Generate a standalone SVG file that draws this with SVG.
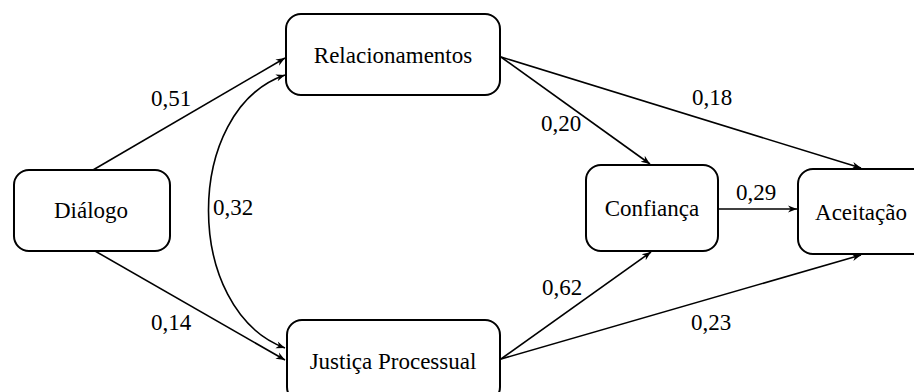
<svg xmlns="http://www.w3.org/2000/svg" width="914" height="392" viewBox="0 0 914 392">
<defs>
<marker id="ah" viewBox="0 0 10 10" refX="10" refY="5" markerWidth="9" markerHeight="9" markerUnits="userSpaceOnUse" orient="auto-start-reverse">
<path d="M0,1 L10,5 L0,9 L3,5 Z" fill="#000"/>
</marker>
<style>
.box{fill:#fff;stroke:#000;stroke-width:2}
.edge{fill:none;stroke:#000;stroke-width:1.6}
</style>
</defs>
<rect width="914" height="392" fill="#fff"/>
<g id="connectors">
<path class="edge" marker-end="url(#ah)" d="M93,170 L285,58"/>
<path class="edge" marker-end="url(#ah)" d="M95,251 L285,360"/>
<path class="edge" marker-start="url(#ah)" marker-end="url(#ah)" d="M285,348 C183,310 183,110 285,75"/>
<path class="edge" marker-end="url(#ah)" d="M501,57 L650,164"/>
<path class="edge" marker-end="url(#ah)" d="M501,57 L861,168"/>
<path class="edge" marker-end="url(#ah)" d="M718,209 L797,209"/>
<path class="edge" marker-end="url(#ah)" d="M501,359 L651,252"/>
<path class="edge" marker-end="url(#ah)" d="M501,359 L861,255"/>
</g>
<g id="labels" font-family="'Liberation Serif', 'Times New Roman', serif" font-size="23" fill="#000" text-anchor="middle">
<text x="171" y="106">0,51</text>
<text x="171" y="330">0,14</text>
<text x="233" y="215">0,32</text>
<text x="561" y="131">0,20</text>
<text x="712" y="105">0,18</text>
<text x="756" y="200">0,29</text>
<text x="562" y="295">0,62</text>
<text x="711" y="330">0,23</text>
</g>
<g font-family="'Liberation Serif', 'Times New Roman', serif" font-size="23" fill="#000" text-anchor="middle">
<g id="dialogo">
<rect class="box" x="14" y="170" width="156" height="81" rx="15"/>
<text x="91" y="218">Diálogo</text>
</g>
<g id="relacionamentos">
<rect class="box" x="286" y="14" width="214" height="81" rx="15"/>
<text x="393" y="63">Relacionamentos</text>
</g>
<g id="justica">
<rect class="box" x="287" y="320" width="213" height="82" rx="15"/>
<text x="393" y="369">Justiça Processual</text>
</g>
<g id="confianca">
<rect class="box" x="586" y="165" width="132" height="86" rx="15"/>
<text x="652" y="216">Confiança</text>
</g>
<g id="aceitacao">
<rect class="box" x="798" y="169" width="130" height="85" rx="15"/>
<text x="861" y="220">Aceitação</text>
</g>
</g>
</svg>
